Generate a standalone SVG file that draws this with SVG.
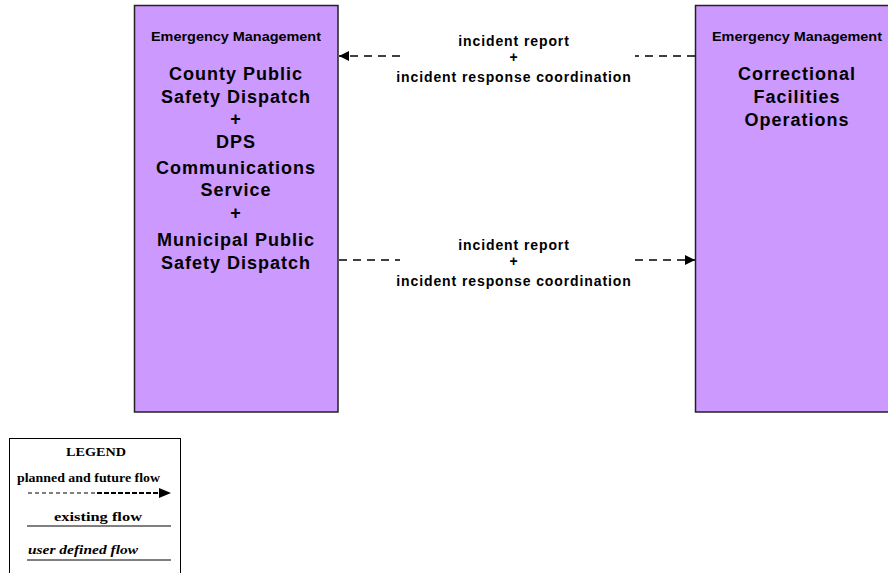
<svg xmlns="http://www.w3.org/2000/svg" width="888" height="573" viewBox="0 0 888 573">
<style>
.box{fill:#CC99FF;stroke:#222;stroke-width:1.5}
.hdr{font-family:"Liberation Sans",Arial,sans-serif;font-weight:bold;font-size:12px;fill:#000;text-anchor:middle}
.nm{font-family:"Liberation Sans",Arial,sans-serif;font-weight:bold;font-size:18px;letter-spacing:1px;fill:#000;text-anchor:middle}
.lbl{font-family:"Liberation Sans",Arial,sans-serif;font-weight:bold;font-size:14px;letter-spacing:0.9px;fill:#000;text-anchor:middle}
.flow{stroke:#000;stroke-width:1.3;stroke-dasharray:8 6;fill:none}
.lg{font-family:"Liberation Serif","Times New Roman",serif;font-weight:bold;font-size:13px;fill:#000;text-anchor:middle}
</style>
<defs>
<marker id="ah" viewBox="0 0 10 10" refX="10" refY="5" markerWidth="10" markerHeight="10" markerUnits="userSpaceOnUse" orient="auto">
<path d="M0,0 L10,5 L0,10 z" fill="#000"/>
</marker>
</defs>
<rect width="888" height="573" fill="#fff"/>
<g id="node-county">
<rect class="box" x="134.5" y="5.5" width="203.5" height="406.5"/>
<text class="hdr" x="236" y="41" textLength="170" lengthAdjust="spacingAndGlyphs">Emergency Management</text>
<text class="nm" x="236" y="80">County Public</text>
<text class="nm" x="236" y="103">Safety Dispatch</text>
<text class="nm" x="236" y="125">+</text>
<text class="nm" x="236" y="148">DPS</text>
<text class="nm" x="236" y="174">Communications</text>
<text class="nm" x="236" y="196">Service</text>
<text class="nm" x="236" y="219">+</text>
<text class="nm" x="236" y="246">Municipal Public</text>
<text class="nm" x="236" y="269">Safety Dispatch</text>
</g>
<g id="node-correctional">
<rect class="box" x="695.5" y="5.5" width="200" height="406.5"/>
<text class="hdr" x="797" y="41" textLength="170" lengthAdjust="spacingAndGlyphs">Emergency Management</text>
<text class="nm" x="797" y="80">Correctional</text>
<text class="nm" x="797" y="103">Facilities</text>
<text class="nm" x="797" y="126">Operations</text>
</g>
<g id="connectors">
<path class="flow" d="M695,56 L635,56"/>
<path class="flow" d="M400,56 L339,56" marker-end="url(#ah)"/>
<text class="lbl" x="514" y="46">incident report</text>
<text class="lbl" x="514" y="62">+</text>
<text class="lbl" x="514" y="82">incident response coordination</text>
<path class="flow" d="M339,260 L400,260"/>
<path class="flow" d="M635,260 L695,260" marker-end="url(#ah)"/>
<text class="lbl" x="514" y="250">incident report</text>
<text class="lbl" x="514" y="266">+</text>
<text class="lbl" x="514" y="286">incident response coordination</text>
</g>
<g id="legend">
<rect x="9.5" y="438.5" width="171" height="140" fill="#fff" stroke="#000" stroke-width="1"/>
<text class="lg" x="96" y="456" textLength="60" lengthAdjust="spacingAndGlyphs">LEGEND</text>
<text class="lg" x="88.5" y="482" textLength="143" lengthAdjust="spacingAndGlyphs">planned and future flow</text>
<path d="M28,493 L96,493" stroke="#000" stroke-width="1" stroke-dasharray="4 3"/>
<path d="M97,493 L160,493" stroke="#000" stroke-width="2" stroke-dasharray="5 2"/>
<path d="M159,488 L171,493 L159,498 z" fill="#000"/>
<text class="lg" x="98" y="521" textLength="88" lengthAdjust="spacingAndGlyphs">existing flow</text>
<path d="M27,526 L171,526" stroke="#000" stroke-width="1"/>
<text class="lg" x="83" y="554" font-style="italic" textLength="110" lengthAdjust="spacingAndGlyphs">user defined flow</text>
<path d="M27,560 L171,560" stroke="#000" stroke-width="1"/>
</g>
</svg>
